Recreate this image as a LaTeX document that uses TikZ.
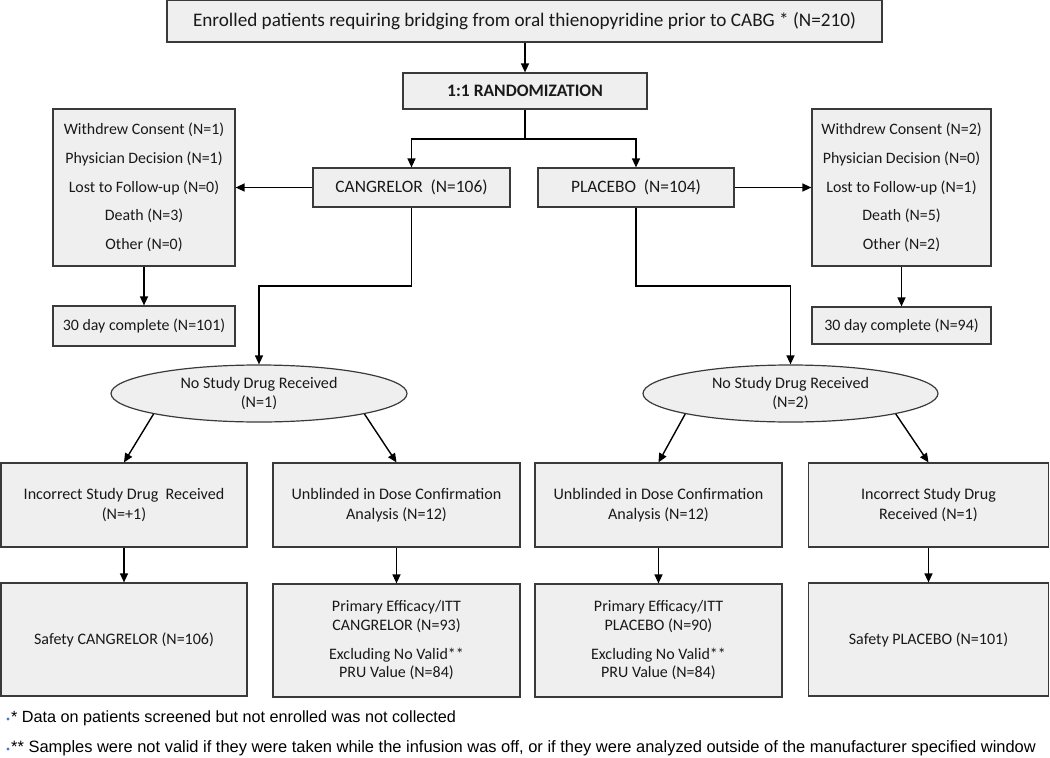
\documentclass[tikz,border=0pt]{standalone}
\usepackage{fontspec}
\setmainfont{Carlito}
\newfontfamily\footfont{Liberation Sans}
\usetikzlibrary{arrows.meta,shapes.geometric}
\definecolor{boxfill}{HTML}{EFEFEF}
\definecolor{boxline}{HTML}{3A3A3A}
\definecolor{dotblue}{HTML}{3C78D8}
\begin{document}
\begin{tikzpicture}[x=1pt,y=-1pt,
  box/.style={draw=boxline,line width=1.2pt,fill=boxfill,inner sep=0pt,align=center,text=black!90},
  ell/.style={ellipse,draw=boxline,line width=1.2pt,fill=boxfill,inner sep=0pt,align=center,text=black!90},
  arr/.style={line width=1.4pt,-{Triangle[length=9pt,width=8pt]}},
  ln/.style={line width=1.4pt}]
\useasboundingbox (0,0) rectangle (1050,758);
% top
\node[box,minimum width=715pt,minimum height=42pt,font=\fontsize{19.2}{22}\selectfont] (top) at (524.5,21) {Enrolled patients requiring bridging from oral thienopyridine prior to CABG * (N=210)};
\node[box,minimum width=244pt,minimum height=36pt,font=\fontsize{17.5}{20}\selectfont\bfseries] (rand) at (525,91) {1:1 RANDOMIZATION};
\node[box,minimum width=197pt,minimum height=39pt,font=\fontsize{17.4}{20}\selectfont] (cang) at (411.5,187.5) {CANGRELOR\ \ (N=106)};
\node[box,minimum width=196pt,minimum height=39pt,font=\fontsize{17.4}{20}\selectfont] (plac) at (636,187.5) {PLACEBO\ \ (N=104)};
\node[box,minimum width=182pt,minimum height=157pt,font=\fontsize{15.9}{28.7}\selectfont] (wl) at (144,187.5) {Withdrew Consent (N=1)\\Physician Decision (N=1)\\Lost to Follow-up (N=0)\\Death (N=3)\\Other (N=0)};
\node[box,minimum width=179pt,minimum height=157pt,font=\fontsize{15.9}{28.7}\selectfont] (wr) at (901.5,187.5) {Withdrew Consent (N=2)\\Physician Decision (N=0)\\Lost to Follow-up (N=1)\\Death (N=5)\\Other (N=2)};
\node[box,minimum width=182pt,minimum height=40pt,font=\fontsize{15.9}{18}\selectfont] (dl) at (144,326) {30 day complete (N=101)};
\node[box,minimum width=179pt,minimum height=37pt,font=\fontsize{15.9}{18}\selectfont] (dr) at (901.5,325.5) {30 day complete (N=94)};
\node[ell,minimum width=296pt,minimum height=57pt,font=\fontsize{16.1}{20}\selectfont] (el) at (259,393.5) {\raisebox{-3pt}{\shortstack{No Study Drug Received\\[2pt](N=1)}}};
\node[ell,minimum width=295pt,minimum height=57pt,font=\fontsize{16.1}{20}\selectfont] (er) at (790.5,393.5) {\raisebox{-3pt}{\shortstack{No Study Drug Received\\[2pt](N=2)}}};
% row 3
\node[box,minimum width=246pt,minimum height=84pt,font=\fontsize{16.1}{19.5}\selectfont] (a1) at (124,505) {Incorrect Study Drug\ \ Received\\(N=+1)};
\node[box,minimum width=247pt,minimum height=84pt,font=\fontsize{16.1}{19.5}\selectfont] (a2) at (396.5,505) {Unblinded in Dose Confirmation\\Analysis (N=12)};
\node[box,minimum width=247pt,minimum height=84pt,font=\fontsize{16.1}{19.5}\selectfont] (a3) at (658.5,505) {Unblinded in Dose Confirmation\\Analysis (N=12)};
\node[box,minimum width=240pt,minimum height=84pt,font=\fontsize{16.1}{19.5}\selectfont] (a4) at (928.5,505) {Incorrect Study Drug\\Received (N=1)};
% row 4
\node[box,minimum width=246pt,minimum height=113pt,font=\fontsize{16}{18.5}\selectfont] (b1) at (124,639.5) {Safety CANGRELOR (N=106)};
\node[box,minimum width=247pt,minimum height=113pt,font=\fontsize{16}{18.5}\selectfont] (b2) at (396.5,640.5) {Primary Efficacy/ITT\\CANGRELOR (N=93)\\[10.5pt]Excluding No Valid**\\PRU Value (N=84)};
\node[box,minimum width=247pt,minimum height=113pt,font=\fontsize{16}{18.5}\selectfont] (b3) at (658.5,640.5) {Primary Efficacy/ITT\\PLACEBO (N=90)\\[10.5pt]Excluding No Valid**\\PRU Value (N=84)};
\node[box,minimum width=240pt,minimum height=113pt,font=\fontsize{16}{18.5}\selectfont] (b4) at (928.5,639.5) {Safety PLACEBO (N=101)};
% connectors
\draw[arr] (top.south -| rand) -- (rand.north);
\coordinate (j) at (525,139);
\draw[ln] (rand.south) -- (j);
\draw[arr] (j) -| (cang.north);
\draw[arr] (j) -| (plac.north);
\draw[arr] (cang.west) -- (wl.east |- cang.west);
\draw[arr] (plac.east) -- (wr.west |- plac.east);
\draw[arr] (wl.south) -- (dl.north);
\draw[arr] (wr.south) -- (dr.north);
\coordinate (cl) at (411.5,286);
\coordinate (pl) at (636,286);
\draw[arr] (cang.south) -- (cl) -| (el.north);
\draw[arr] (plac.south) -- (pl) -| (er.north);
\draw[arr] (el.191) -- (a1.north);
\draw[arr] (el.349) -- (a2.north);
\draw[arr] (er.191) -- (a3.north);
\draw[arr] (er.349) -- (a4.north);
\draw[arr] (a1.south) -- (b1.north);
\draw[arr] (a2.south) -- (b2.north);
\draw[arr] (a3.south) -- (b3.north);
\draw[arr] (a4.south) -- (b4.north);
% footnotes
\fill[dotblue] (8,719) circle (1.6pt);
\fill[dotblue] (8,749) circle (1.6pt);
\node[anchor=west,inner sep=0pt,font=\footfont\fontsize{16.2}{18}\selectfont] (f1) at (11,718) {* Data on patients screened but not enrolled was not collected};
\node[anchor=west,inner sep=0pt,font=\footfont\fontsize{16.45}{18}\selectfont] (f2) at (11,748) {** Samples were not valid if they were taken while the infusion was off, or if they were analyzed outside of the manufacturer specified window};
\end{tikzpicture}
\end{document}
